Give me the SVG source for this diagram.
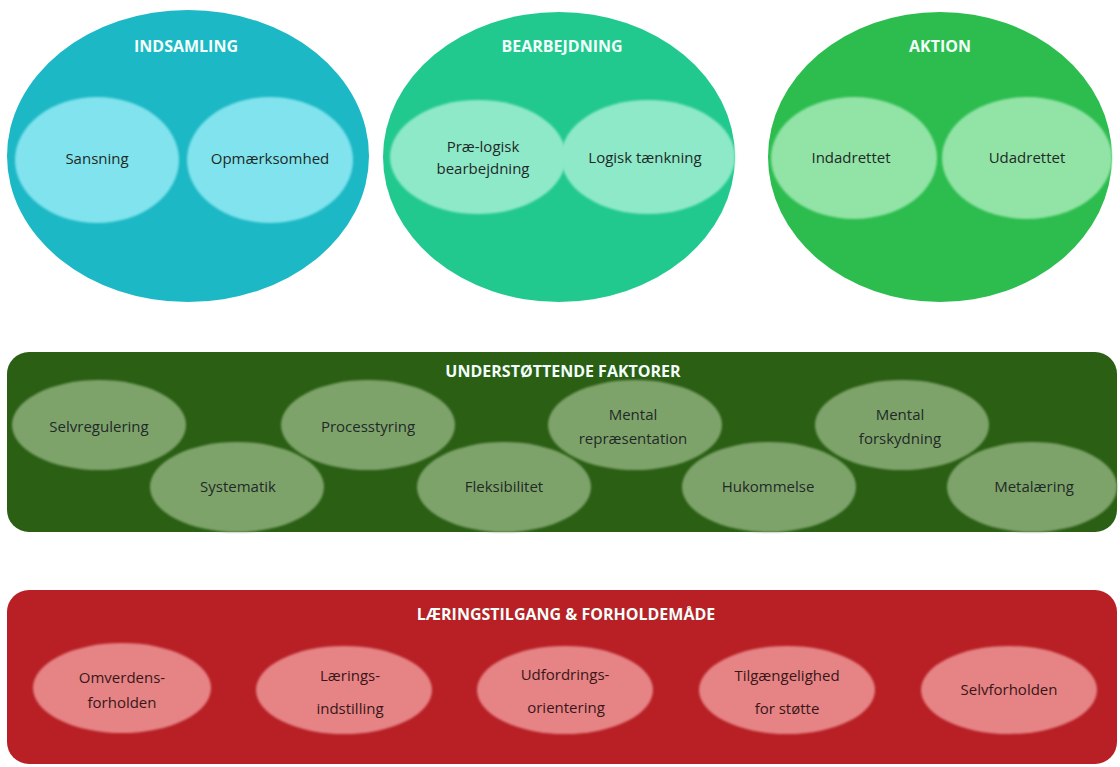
<svg xmlns="http://www.w3.org/2000/svg" width="1120" height="767" viewBox="0 0 1120 767">
<style>
.title{font-family:"Open Sans","Liberation Sans",sans-serif;font-weight:bold;font-size:16px;fill:#F2FFFB;text-anchor:middle}
.lbl{font-family:"Open Sans","Liberation Sans",sans-serif;font-size:15px;fill:#1E2A28;text-anchor:middle}
.lblr{font-family:"Open Sans","Liberation Sans",sans-serif;font-size:15px;fill:#3A1618;text-anchor:middle}
.soft{filter:url(#blur)}
</style>
<defs>
<filter id="blur" x="-5%" y="-5%" width="110%" height="110%"><feGaussianBlur stdDeviation="1.2"/></filter>
</defs>
<rect width="1120" height="767" fill="#FFFFFF"/>

<g id="indsamling">
<ellipse cx="188" cy="156" rx="181" ry="146" fill="#1CB8C5"/>
<text class="title" x="186" y="52">INDSAMLING</text>
<g id="sansning"><ellipse class="soft" cx="97" cy="160" rx="82" ry="63" fill="#80E3ED"/><text class="lbl" x="97" y="164">Sansning</text></g>
<g id="opmaerksomhed"><ellipse class="soft" cx="270" cy="160" rx="83" ry="63" fill="#80E3ED"/><text class="lbl" x="270" y="164">Opmærksomhed</text></g>
</g>

<g id="bearbejdning">
<ellipse cx="559" cy="157" rx="176" ry="145" fill="#22C98F"/>
<text class="title" x="562" y="52">BEARBEJDNING</text>
<g id="praelogisk"><ellipse class="soft" cx="478" cy="157" rx="88" ry="57" fill="#8EE9C8"/><text class="lbl" x="483" y="152">Præ-logisk</text><text class="lbl" x="483" y="174">bearbejdning</text></g>
<g id="logisk"><ellipse class="soft" cx="648" cy="157" rx="87" ry="57" fill="#8EE9C8"/><text class="lbl" x="645" y="163">Logisk tænkning</text></g>
</g>

<g id="aktion">
<ellipse cx="940" cy="157" rx="172" ry="145" fill="#2CBD4E"/>
<text class="title" x="940" y="52">AKTION</text>
<g id="indadrettet"><ellipse class="soft" cx="854" cy="158" rx="83" ry="61" fill="#92E3A6"/><text class="lbl" x="851" y="163">Indadrettet</text></g>
<g id="udadrettet"><ellipse class="soft" cx="1027" cy="158" rx="85" ry="61" fill="#92E3A6"/><text class="lbl" x="1027" y="163">Udadrettet</text></g>
</g>

<g id="understoettende">
<rect x="7" y="352" width="1110" height="180" rx="22" fill="#2A5F14"/>
<text class="title" x="563" y="377">UNDERSTØTTENDE FAKTORER</text>
<g id="selvregulering"><ellipse class="soft" cx="99" cy="425" rx="87" ry="45" fill="#7EA36A"/><text class="lbl" x="99" y="432">Selvregulering</text></g>
<g id="processtyring"><ellipse class="soft" cx="368" cy="425" rx="87" ry="45" fill="#7EA36A"/><text class="lbl" x="368" y="432">Processtyring</text></g>
<g id="mentalrep"><ellipse class="soft" cx="635" cy="425" rx="87" ry="45" fill="#7EA36A"/><text class="lbl" x="633" y="420">Mental</text><text class="lbl" x="633" y="444">repræsentation</text></g>
<g id="mentalfor"><ellipse class="soft" cx="902" cy="425" rx="87" ry="45" fill="#7EA36A"/><text class="lbl" x="900" y="420">Mental</text><text class="lbl" x="900" y="444">forskydning</text></g>
<g id="systematik"><ellipse class="soft" cx="237" cy="487" rx="87" ry="45" fill="#7EA36A"/><text class="lbl" x="238" y="492">Systematik</text></g>
<g id="fleksibilitet"><ellipse class="soft" cx="504" cy="487" rx="87" ry="45" fill="#7EA36A"/><text class="lbl" x="504" y="492">Fleksibilitet</text></g>
<g id="hukommelse"><ellipse class="soft" cx="769" cy="487" rx="87" ry="45" fill="#7EA36A"/><text class="lbl" x="768" y="492">Hukommelse</text></g>
<g id="metalaering"><ellipse class="soft" cx="1032" cy="487" rx="85" ry="45" fill="#7EA36A"/><text class="lbl" x="1034" y="492">Metalæring</text></g>
</g>

<g id="laeringstilgang">
<rect x="7" y="590" width="1110" height="174" rx="22" fill="#B82025"/>
<text class="title" x="566" y="620">LÆRINGSTILGANG &amp; FORHOLDEMÅDE</text>
<g id="omverdens"><ellipse class="soft" cx="122" cy="688" rx="89" ry="45" fill="#E58385"/><text class="lblr" x="122" y="683">Omverdens-</text><text class="lblr" x="122" y="708">forholden</text></g>
<g id="laerings"><ellipse class="soft" cx="344" cy="690" rx="88" ry="44" fill="#E58385"/><text class="lblr" x="350" y="681">Lærings-</text><text class="lblr" x="350" y="714">indstilling</text></g>
<g id="udfordrings"><ellipse class="soft" cx="565" cy="690" rx="88" ry="44" fill="#E58385"/><text class="lblr" x="565" y="680">Udfordrings-</text><text class="lblr" x="566" y="713">orientering</text></g>
<g id="tilgaengelighed"><ellipse class="soft" cx="787" cy="690" rx="88" ry="44" fill="#E58385"/><text class="lblr" x="787" y="681">Tilgængelighed</text><text class="lblr" x="787" y="714">for støtte</text></g>
<g id="selvforholden"><ellipse class="soft" cx="1009" cy="690" rx="88" ry="44" fill="#E58385"/><text class="lblr" x="1009" y="695">Selvforholden</text></g>
</g>

<g id="connectors"></g>
</svg>
